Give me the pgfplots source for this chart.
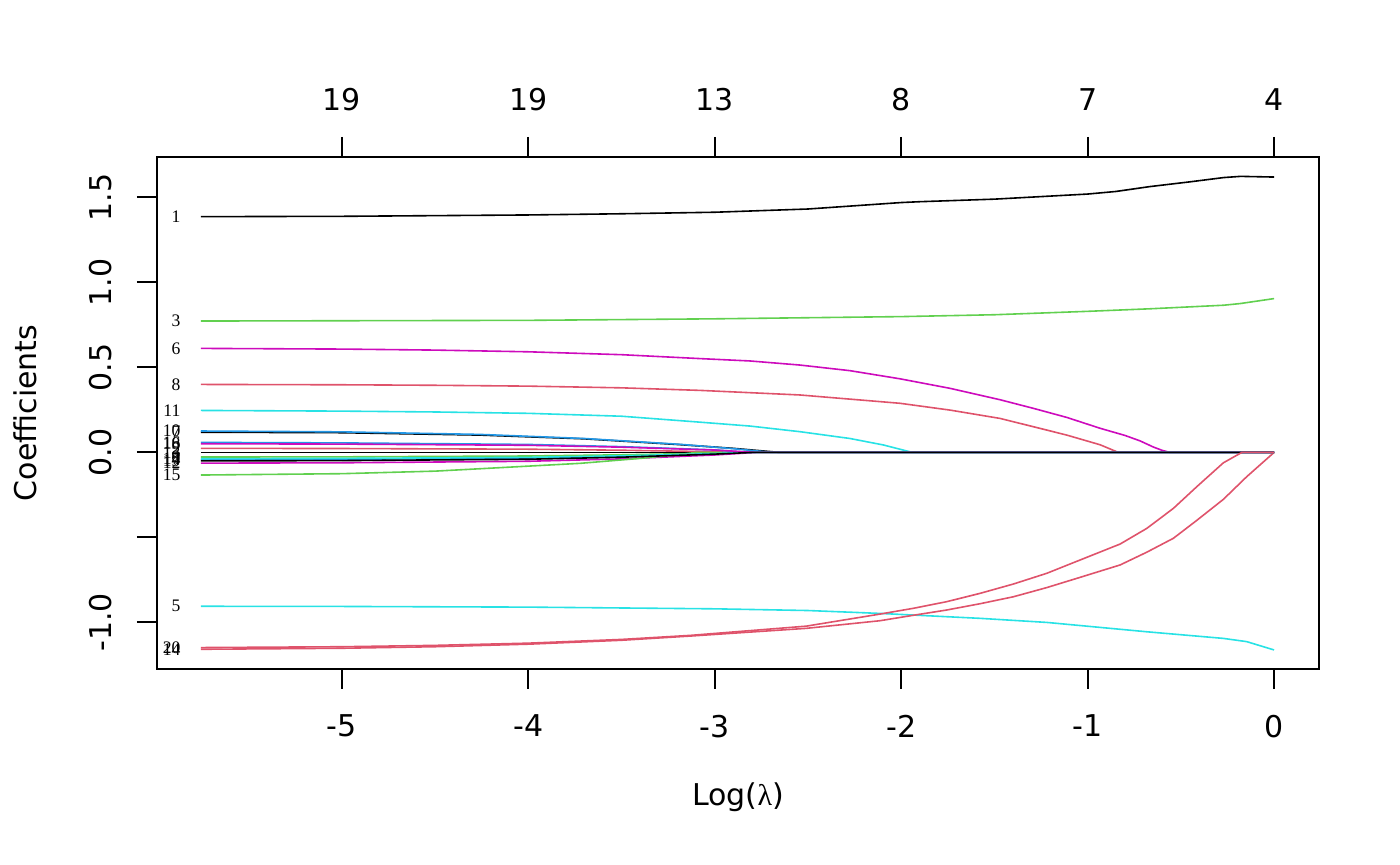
\documentclass[border=0pt]{standalone}
\usepackage{pgfplots}
\pgfplotsset{compat=1.18}
\usepackage{fontspec}
\setmainfont{DejaVu Sans}
\newfontfamily\lblfont{Liberation Serif}
\definecolor{rred}{HTML}{DF536B}
\definecolor{rgreen}{HTML}{61D04F}
\definecolor{rblue}{HTML}{2297E6}
\definecolor{rcyan}{HTML}{28E2E5}
\definecolor{rmag}{HTML}{CD0BBC}

\pgfplotsset{
  lassobase/.style={
    width=581pt, height=256pt, scale only axis,
    xmin=-5.992, xmax=0.241, ymin=-1.274, ymax=1.738,
    tick align=outside, major tick length=10pt,
    tick style={black, line width=1pt},
    axis line style={line width=1pt},
    xticklabel shift=9.5pt, yticklabel shift=9pt,
    font=\fontsize{15}{18}\selectfont,
  },
}
\tikzset{vlab/.style={font=\lblfont\fontsize{8.8}{10}\selectfont, anchor=east, inner sep=0pt, xshift=-10pt}}

\begin{document}
\begin{tikzpicture}
\begin{axis}[lassobase,
  xtick={-5,-4,-3,-2,-1,0}, xticklabels={-5,-4,-3,-2,-1,0},
  xtick pos=left,
  ytick={-1,-0.5,0,0.5,1,1.5}, yticklabels={-1.0,,0.0,0.5,1.0,1.5},
  ytick pos=left,
  yticklabel style={rotate=90, anchor=south},
  xlabel={Log({\lblfont λ})},
  ylabel={Coefficients},
  xlabel style={at={(axis description cs:0.5,-0.25)}, anchor=center},
  ylabel style={at={(axis description cs:-0.1136,0.5)}, anchor=center},
  every axis plot/.append style={line width=0.8pt, no marks},
]
\coordinate (bl) at (rel axis cs:0,0);
\coordinate (tr) at (rel axis cs:1,1);

% 1
\addplot[black] coordinates {(-5.757,1.387) (-5,1.389) (-4,1.397) (-3.5,1.404) (-3,1.413) (-2.5,1.432) (-2,1.47) (-1.9,1.475) (-1.5,1.49) (-1.2,1.508) (-1,1.52) (-0.85,1.535) (-0.665,1.564) (-0.45,1.592) (-0.27,1.617) (-0.18,1.624) (0,1.62)};
% 2
\addplot[rred] coordinates {(-5.757,0.024) (-5,0.023) (-4,0.019) (-3.5,0.013) (-3,0.004) (-2.9,0) (0,0)};
% 3
\addplot[rgreen] coordinates {(-5.757,0.773) (-4,0.777) (-3,0.786) (-2,0.799) (-1.5,0.81) (-1,0.83) (-0.665,0.845) (-0.27,0.866) (-0.18,0.876) (0,0.905)};
% 4
\addplot[rblue] coordinates {(-5.757,-0.042) (-5,-0.04) (-4,-0.033) (-3.5,-0.023) (-3,-0.008) (-2.85,0) (0,0)};
% 5
\addplot[rcyan] coordinates {(-5.757,-0.905) (-5,-0.906) (-4,-0.91) (-3,-0.92) (-2.5,-0.93) (-2.114,-0.947) (-1.577,-0.976) (-1.219,-1.0) (-0.683,-1.055) (-0.272,-1.094) (-0.147,-1.113) (0,-1.162)};
% 6
\addplot[rmag] coordinates {(-5.757,0.612) (-5,0.608) (-4.5,0.602) (-4,0.592) (-3.5,0.575) (-3.079,0.552) (-2.81,0.538) (-2.543,0.514) (-2.275,0.481) (-2.006,0.433) (-1.738,0.377) (-1.47,0.31) (-1.29,0.259) (-1.112,0.206) (-0.933,0.142) (-0.8,0.1) (-0.719,0.068) (-0.648,0.032) (-0.6,0.012) (-0.558,0) (0,0)};
% 7
\addplot[black] coordinates {(-5.757,0.119) (-5,0.116) (-4.26,0.102) (-3.7,0.08) (-3.19,0.046) (-2.9,0.024) (-2.65,0) (0,0)};
% 8
\addplot[rred] coordinates {(-5.757,0.40) (-5,0.398) (-4.5,0.395) (-4,0.39) (-3.5,0.38) (-3.079,0.365) (-2.543,0.338) (-2.006,0.289) (-1.738,0.249) (-1.47,0.2) (-1.29,0.151) (-1.112,0.102) (-0.933,0.045) (-0.835,0) (0,0)};
% 9
\addplot[rgreen] coordinates {(-5.757,-0.027) (-5,-0.026) (-4,-0.021) (-3.5,-0.014) (-3,-0.004) (-2.9,0) (0,0)};
% 10
\addplot[rblue] coordinates {(-5.757,0.126) (-5,0.121) (-4.26,0.106) (-3.7,0.082) (-3.19,0.048) (-2.9,0.022) (-2.69,0) (0,0)};
% 11
\addplot[rcyan] coordinates {(-5.757,0.247) (-5,0.243) (-4.5,0.238) (-4,0.23) (-3.5,0.213) (-3.079,0.178) (-2.81,0.155) (-2.543,0.122) (-2.275,0.082) (-2.096,0.044) (-1.94,0) (0,0)};
% 12
\addplot[rmag] coordinates {(-5.757,-0.063) (-5,-0.061) (-4,-0.052) (-3.5,-0.038) (-3,-0.015) (-2.78,0) (0,0)};
% 13
\addplot[black] coordinates {(-5.757,0) (0,0)};
% 14
\addplot[rred] coordinates {(-5.757,-1.158) (-5,-1.152) (-4.5,-1.143) (-4,-1.128) (-3.5,-1.105) (-3.128,-1.08) (-2.51,-1.035) (-2.114,-0.99) (-1.935,-0.958) (-1.756,-0.927) (-1.577,-0.89) (-1.398,-0.849) (-1.219,-0.795) (-1.041,-0.735) (-0.826,-0.662) (-0.683,-0.587) (-0.54,-0.505) (-0.415,-0.4) (-0.272,-0.276) (-0.147,-0.143) (0,0)};
% 15
\addplot[rgreen] coordinates {(-5.757,-0.133) (-5,-0.125) (-4.5,-0.11) (-4.26,-0.096) (-3.72,-0.064) (-3.4,-0.035) (-3.19,-0.012) (-3.1,0) (0,0)};
% 16
\addplot[rblue] coordinates {(-5.757,0.059) (-5,0.056) (-4,0.047) (-3.5,0.034) (-3,0.015) (-2.82,0) (0,0)};
% 17
\addplot[rcyan] coordinates {(-5.757,-0.037) (-5,-0.035) (-4,-0.029) (-3.5,-0.02) (-3,-0.007) (-2.85,0) (0,0)};
% 18
\addplot[rmag] coordinates {(-5.757,0.051) (-5,0.049) (-4,0.042) (-3.5,0.031) (-3,0.014) (-2.78,0) (0,0)};
% 19
\addplot[black] coordinates {(-5.757,-0.05) (-5,-0.048) (-4,-0.04) (-3.5,-0.028) (-3,-0.01) (-2.8,0) (0,0)};
% 20
\addplot[rred] coordinates {(-5.757,-1.148) (-5,-1.143) (-4.5,-1.135) (-4,-1.122) (-3.5,-1.1) (-3.128,-1.076) (-2.51,-1.022) (-2.114,-0.951) (-1.935,-0.917) (-1.756,-0.878) (-1.577,-0.829) (-1.398,-0.774) (-1.219,-0.711) (-1.041,-0.633) (-0.826,-0.539) (-0.683,-0.447) (-0.54,-0.329) (-0.415,-0.202) (-0.272,-0.061) (-0.173,0) (0,0)};

% variable numbers at the left end of each path
\node[vlab] at (axis cs:-5.757,1.387) {1};
\node[vlab] at (axis cs:-5.757,0.024) {2};
\node[vlab] at (axis cs:-5.757,0.773) {3};
\node[vlab] at (axis cs:-5.757,-0.042) {4};
\node[vlab] at (axis cs:-5.757,-0.905) {5};
\node[vlab] at (axis cs:-5.757,0.612) {6};
\node[vlab] at (axis cs:-5.757,0.119) {7};
\node[vlab] at (axis cs:-5.757,0.40) {8};
\node[vlab] at (axis cs:-5.757,-0.027) {9};
\node[vlab] at (axis cs:-5.757,0.126) {10};
\node[vlab] at (axis cs:-5.757,0.247) {11};
\node[vlab] at (axis cs:-5.757,-0.063) {12};
\node[vlab] at (axis cs:-5.757,0) {13};
\node[vlab] at (axis cs:-5.757,-1.158) {14};
\node[vlab] at (axis cs:-5.757,-0.133) {15};
\node[vlab] at (axis cs:-5.757,0.059) {16};
\node[vlab] at (axis cs:-5.757,-0.037) {17};
\node[vlab] at (axis cs:-5.757,0.051) {18};
\node[vlab] at (axis cs:-5.757,-0.05) {19};
\node[vlab] at (axis cs:-5.757,-1.148) {20};
\end{axis}

% top axis: number of non-zero coefficients
\begin{axis}[lassobase,
  axis x line*=top, axis y line=none,
  xtick={-5,-4,-3,-2,-1,0}, xticklabels={19,19,13,8,7,4},
]
\end{axis}

\pgfresetboundingbox
\path ([shift={(-78.5pt,-98pt)}]bl) rectangle ([shift={(40.5pt,78.5pt)}]tr);
\end{tikzpicture}
\end{document}
